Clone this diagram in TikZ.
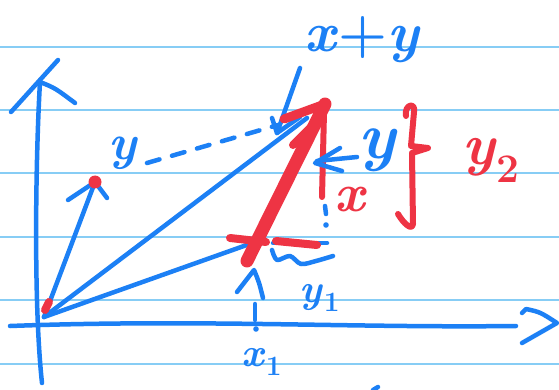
\documentclass[tikz,border=0pt]{standalone}
\usepackage{tikz}
\usepackage{xcolor}
\usetikzlibrary{arrows.meta, positioning, calc}
\definecolor{inkblue}{RGB}{28,128,245}
\definecolor{inkred}{RGB}{238,52,68}
\definecolor{ruleblue}{RGB}{135,205,245}

\begin{document}
\begin{tikzpicture}[
        x=1pt, y=-1pt,
        rule/.style={draw=ruleblue, line width=2.5pt},
        ink/.style={draw=inkblue, line width=4.5pt, line cap=round, line join=round},
        redink/.style={draw=inkred, line width=6pt, line cap=round, line join=round},
        bluelbl/.style={text=inkblue, inner sep=0pt},
        redlbl/.style={text=inkred, inner sep=0pt}
    ]
        \useasboundingbox (0,0) rectangle (559,390);
        \fill[white] (0,0) rectangle (559,390);

        % Ruled paper
        \foreach \ry in {47,110,173,237,300,364}
            \draw[rule] (0,\ry) -- (559,\ry);

        % Points
        \coordinate (O) at (44,317);
        \coordinate (Y) at (95,182);
        \coordinate (X) at (258,241);
        \coordinate (S) at (307,118);
        \coordinate (T) at (325,104);

        % Axes
        \draw[ink] (10,326) .. controls (200,319) and (350,328) .. (516,326);
        \draw[ink] (522,313) -- (526,309) .. controls (540,312) .. (557,323) -- (522,343);
        \draw[ink] (42,383) .. controls (33,300) and (36,150) .. (40,82);
        \draw[ink] (11,112) -- (58,60);
        \draw[ink] (40,82) .. controls (55,88) .. (75,103);

        % Vectors from the origin
        \draw[ink] (O) -- (Y);
        \draw[ink] (68,200) -- (Y) -- (107,198);
        \draw[ink] (O) -- (X);
        \draw[ink] (O) -- (S);
        \draw[ink, dash pattern=on 13pt off 13pt] (147,163) -- (278,125);
        \draw[redink, line width=8pt] (45,310) -- (49,302);
        \fill[inkred] (Y) circle (6.5pt);

        % Label x+y and its pointer
        \node[bluelbl, font=\fontsize{56}{56}\selectfont\bfseries] (sumlbl) at (363,40) {\textit{x}+\textit{y}};
        \draw[ink] (300,68) -- (277,133);
        \draw[ink] (272,118) -- (277,133) -- (300,117);

        % Label y
        \node[bluelbl, font=\fontsize{50}{50}\selectfont\bfseries\itshape] (ylbl) at (123,153) {y};

        % Red vector y placed at the head of x
        \draw[ink] (273,243) -- (327,243);
        \draw[redink, line width=8pt] (230,238) -- (266,242);
        \draw[redink, line width=8pt] (276,241) -- (317,245);
        \draw[redink, line width=13pt] (247,261) -- (T);
        \draw[redink, line width=9pt] (284,119) -- (T);
        \draw[redink, line width=8pt] (293,145) -- (316,122);
        \draw[redink] (324,112) -- (322,197);

        % Parts y1 and y2
        \draw[ink] (340,148) -- (315,163) -- (342,171);
        \draw[ink] (317,161) -- (357,157);
        \node[bluelbl, font=\fontsize{66}{66}\selectfont\bfseries\itshape] (ytwolbl) at (377,150) {y};
        \node[redlbl, font=\fontsize{54}{54}\selectfont\bfseries\itshape] (xlbl) at (350,200) {x};
        \draw[ink] (325,206) -- (326,214);
        \fill[inkblue] (326,225) circle (2.8pt);
        \draw[redink] (406,116) .. controls (404,104) and (416,102) .. (414,112)
            -- (411,146) -- (428,148) -- (412,153) -- (413,224)
            .. controls (412,231) and (404,224) .. (398,214);
        \node[redlbl, font=\fontsize{58}{58}\selectfont\bfseries] (ytwo) at (491,160) {\textit{y}\textsubscript{2}};

        \draw[ink] plot[smooth] coordinates {(272,250) (277,260) (290,256) (301,264) (316,261) (333,256)};
        \node[bluelbl, font=\fontsize{40}{40}\selectfont\bfseries] (yone) at (320,298) {\textit{y}\textsubscript{1}};

        % Pointer to the head of x and the mark x1
        \draw[ink] (237,292) -- (254,270) .. controls (259,282) .. (263,298);
        \draw[ink] (255,304) -- (255,320);
        \fill[inkblue] (256,329) circle (2.8pt);
        \node[bluelbl, font=\fontsize{40}{40}\selectfont\bfseries] (xone) at (262,362) {\textit{x}\textsubscript{1}};

        \draw[ink] (373,390) -- (378,387);
    \end{tikzpicture}
\end{document}
